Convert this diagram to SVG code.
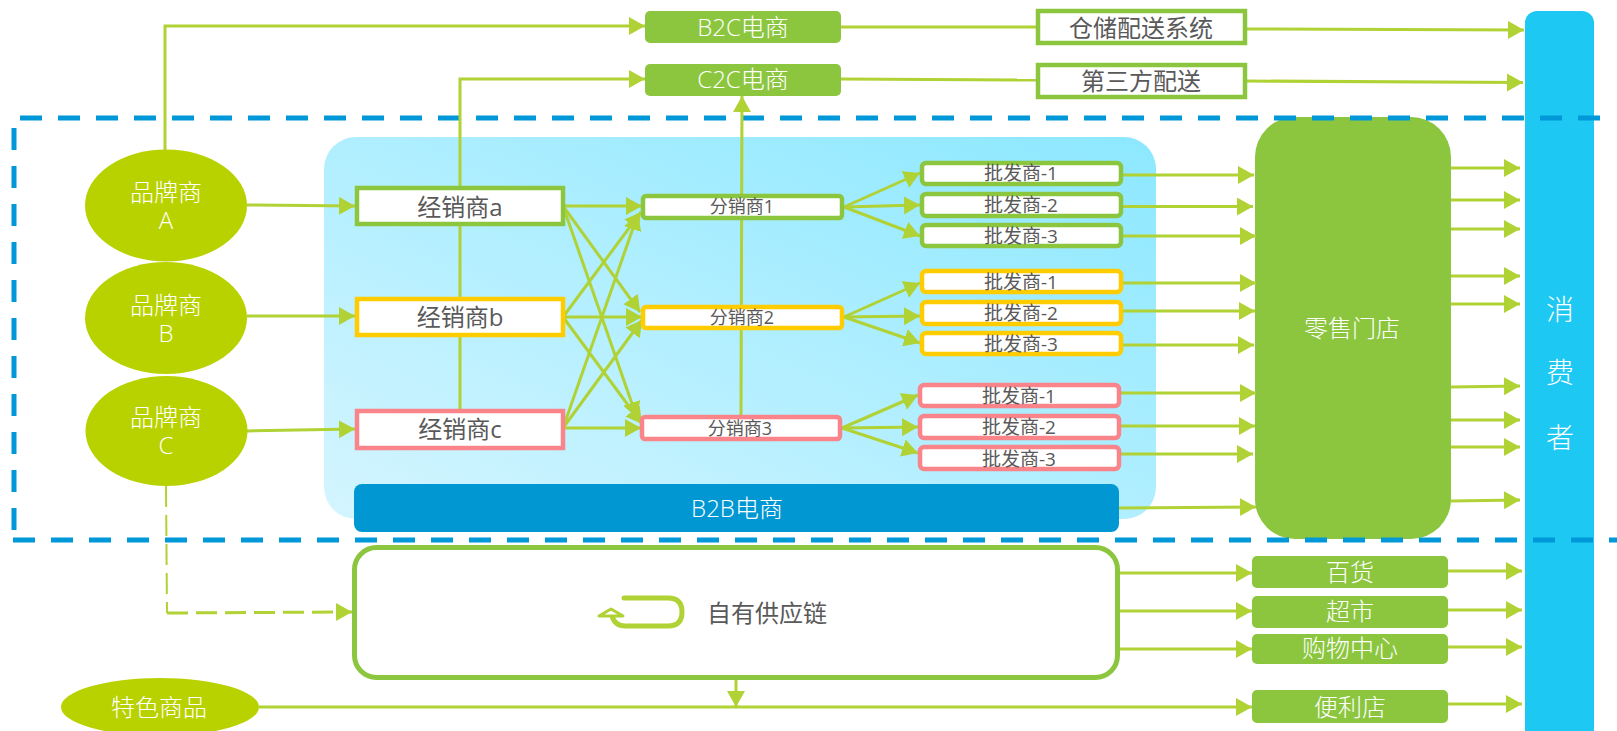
<svg xmlns="http://www.w3.org/2000/svg" width="1617" height="731" viewBox="0 0 1617 731">
<style>
text{font-family:"Open Sans","Noto Sans CJK SC",sans-serif;font-weight:400;text-anchor:middle}
.w{fill:#fff;font-weight:300}.d{fill:#595959}
.s24{font-size:24px}.s20{font-size:19px}.s18{font-size:18px}.s28{font-size:28px}
.c{fill:none;stroke:#b0d235;stroke-width:3}
.ar{marker-end:url(#ah)}
.g{fill:#8cc63f}
.box{fill:#fff;stroke-width:4.500}
.bg{stroke:#8cc63f}.by{stroke:#ffcc00}.bp{stroke:#f9858b}
.e{fill:#b8d200}
.dash{fill:none;stroke:#0098d8;stroke-width:5;stroke-dasharray:22 16}
</style>
<defs>
<marker id="ah" markerUnits="userSpaceOnUse" markerWidth="17" markerHeight="19" refX="16" refY="9" orient="auto"><path d="M0,0L16,9L0,18z" fill="#b0d235"/></marker>
<linearGradient id="pg" x1="0" y1="1" x2="1" y2="0"><stop offset="0" stop-color="#d4f5ff"/><stop offset="1" stop-color="#8ce8ff"/></linearGradient>
</defs>
<g id="panel"><rect x="324" y="137" width="832" height="382" rx="32" fill="url(#pg)"/></g>
<g id="retail"><rect x="1255" y="117" width="196" height="422" rx="40" class="g"/><text x="1352" y="337" class="w s24">零售门店</text></g>
<g id="consumer"><rect x="1525" y="11" width="69" height="735" rx="12" fill="#1dc8f3"/><text x="1560" y="320" class="w s28">消</text><text x="1560" y="383" class="w s28">费</text><text x="1560" y="448" class="w s28">者</text></g>
<g id="frame"><path class="dash" d="M20,118H1603"/><path class="dash" d="M14,128V530"/><path class="dash" d="M13,540H1617"/></g>
<g id="connectors">
<path class="c ar" d="M165,150V26H645"/>
<path class="c ar" d="M460,409V79H645"/>
<path class="c ar" d="M741,415L742,96"/>
<path class="c ar" d="M247,205L355,206"/>
<path class="c ar" d="M247,316L355,316"/>
<path class="c ar" d="M247,431L355,429"/>
<path class="c ar" d="M563,206H642"/>
<path class="c ar" d="M563,206L640,312"/>
<path class="c ar" d="M563,206L637,418"/>
<path class="c ar" d="M563,317L641,212"/>
<path class="c ar" d="M563,317H642"/>
<path class="c ar" d="M563,317L642,424"/>
<path class="c ar" d="M563,428L638,214"/>
<path class="c ar" d="M563,428L642,320"/>
<path class="c ar" d="M563,428H641"/>
<path class="c ar" d="M844,207L920,173"/>
<path class="c ar" d="M844,207L920,205"/>
<path class="c ar" d="M844,207L920,236"/>
<path class="c ar" d="M844,317L920,283"/>
<path class="c ar" d="M844,317L920,316"/>
<path class="c ar" d="M844,317L920,343"/>
<path class="c ar" d="M842,428L918,395"/>
<path class="c ar" d="M842,428L918,427"/>
<path class="c ar" d="M842,428L918,453"/>
<path class="c ar" d="M1123,175H1254"/>
<path class="c ar" d="M1118,206.500H1253"/>
<path class="c ar" d="M1123,236H1256"/>
<path class="c ar" d="M1123,283H1256"/>
<path class="c ar" d="M1123,311H1255"/>
<path class="c ar" d="M1123,345H1254"/>
<path class="c ar" d="M1121,393H1256"/>
<path class="c ar" d="M1121,426H1255"/>
<path class="c ar" d="M1118,454H1253"/>
<path class="c ar" d="M1119,508L1256,507"/>
<path class="c ar" d="M1451,168H1520"/>
<path class="c ar" d="M1451,200H1520"/>
<path class="c ar" d="M1451,229H1520"/>
<path class="c ar" d="M1451,276H1520"/>
<path class="c ar" d="M1451,304H1520"/>
<path class="c ar" d="M1451,387L1520,386"/>
<path class="c ar" d="M1451,420H1520"/>
<path class="c ar" d="M1451,447H1520"/>
<path class="c ar" d="M1451,501L1520,500"/>
<path class="c" d="M841,27H1036"/>
<path class="c" d="M841,79L1036,80"/>
<path class="c ar" d="M1247,29L1524,30"/>
<path class="c ar" d="M1247,81L1523,82.500"/>
<path class="c ar" d="M1120,573H1252"/>
<path class="c ar" d="M1120,611H1252"/>
<path class="c ar" d="M1120,649H1252"/>
<path class="c ar" d="M1448,571H1522"/>
<path class="c ar" d="M1448,610H1522"/>
<path class="c ar" d="M1448,647H1522"/>
<path class="c ar" d="M1448,704H1522"/>
<path class="c ar" d="M259,707H1252"/>
<path class="c ar" d="M736,680V707"/>
<path fill="none" stroke="#b0d235" stroke-width="2" stroke-dasharray="21 8" d="M166,486L167,613"/>
<path class="ar" fill="none" stroke="#b0d235" stroke-width="3" stroke-dasharray="21 8" d="M167,613L352,612"/>
</g>
<g id="brandA"><ellipse cx="166" cy="205.500" rx="81" ry="56" class="e"/><text class="w s24"><tspan x="166" y="201">品牌商</tspan><tspan x="166" y="229">A</tspan></text></g>
<g id="brandB"><ellipse cx="166" cy="318" rx="81" ry="56" class="e"/><text class="w s24"><tspan x="166" y="314">品牌商</tspan><tspan x="166" y="342">B</tspan></text></g>
<g id="brandC"><ellipse cx="166.500" cy="431" rx="81" ry="55" class="e"/><text class="w s24"><tspan x="166" y="426">品牌商</tspan><tspan x="166" y="454">C</tspan></text></g>
<g id="b2c"><rect x="645" y="11" width="196" height="32" rx="5" class="g"/><text x="743" y="36" class="w s24">B2C电商</text></g>
<g id="c2c"><rect x="645" y="64" width="196" height="32" rx="5" class="g"/><text x="743" y="88" class="w s24">C2C电商</text></g>
<g id="wms"><rect x="1038" y="11" width="207" height="32" class="box bg"/><text x="1141" y="37" class="d s24">仓储配送系统</text></g>
<g id="third"><rect x="1038" y="65" width="207" height="32" class="box bg"/><text x="1141" y="90" class="d s24">第三方配送</text></g>
<g id="dealerA"><rect x="357" y="188" width="206" height="36" class="box bg"/><text x="460" y="216" class="d s24">经销商a</text></g>
<g id="dealerB"><rect x="357" y="299" width="206" height="36" class="box by"/><text x="460" y="326" class="d s24">经销商b</text></g>
<g id="dealerC"><rect x="357" y="411" width="206" height="37" class="box bp"/><text x="460" y="438" class="d s24">经销商c</text></g>
<g id="dist1"><rect x="643" y="196" width="199" height="22" rx="3" class="box bg"/><text x="742" y="213" class="d s18">分销商1</text></g>
<g id="dist2"><rect x="643" y="307" width="199" height="21" rx="3" class="box by"/><text x="742" y="324" class="d s18">分销商2</text></g>
<g id="dist3"><rect x="642" y="417" width="198" height="22" rx="3" class="box bp"/><text x="740" y="435" class="d s18">分销商3</text></g>
<g id="wg1"><rect x="922" y="163" width="199" height="21" rx="4" class="box bg"/><text x="1021" y="180" class="d s20">批发商-1</text></g>
<g id="wg2"><rect x="922" y="194" width="199" height="22" rx="4" class="box bg"/><text x="1021" y="212" class="d s20">批发商-2</text></g>
<g id="wg3"><rect x="922" y="225" width="199" height="21" rx="4" class="box bg"/><text x="1021" y="243" class="d s20">批发商-3</text></g>
<g id="wy1"><rect x="922" y="271" width="199" height="21" rx="4" class="box by"/><text x="1021" y="289" class="d s20">批发商-1</text></g>
<g id="wy2"><rect x="922" y="302" width="199" height="22" rx="4" class="box by"/><text x="1021" y="320" class="d s20">批发商-2</text></g>
<g id="wy3"><rect x="922" y="333" width="199" height="21" rx="4" class="box by"/><text x="1021" y="351" class="d s20">批发商-3</text></g>
<g id="wp1"><rect x="920" y="385" width="199" height="21" rx="4" class="box bp"/><text x="1019" y="403" class="d s20">批发商-1</text></g>
<g id="wp2"><rect x="920" y="416" width="199" height="22" rx="4" class="box bp"/><text x="1019" y="434" class="d s20">批发商-2</text></g>
<g id="wp3"><rect x="920" y="447" width="199" height="22" rx="4" class="box bp"/><text x="1019" y="466" class="d s20">批发商-3</text></g>
<g id="b2b"><rect x="354" y="484" width="765" height="48" rx="8" fill="#0097d3"/><text x="737" y="517" class="w s24">B2B电商</text></g>
<g id="own"><rect x="354.500" y="547.500" width="763" height="130" rx="22" fill="#fff" stroke="#8cc63f" stroke-width="5"/><path d="M624,598H668Q682,598 682,612Q682,626 668,626H625Q615,626 612,616" fill="none" stroke="#b0d235" stroke-width="5" stroke-linecap="round"/><path d="M599,616L611,609L623,616z" fill="#fff" stroke="#b0d235" stroke-width="3" stroke-linejoin="round"/><text x="767" y="622" class="d s24">自有供应链</text></g>
<g id="special"><ellipse cx="160" cy="707" rx="99" ry="29" class="e"/><text x="159" y="716" class="w s24">特色商品</text></g>
<g id="dept"><rect x="1252" y="556" width="196" height="32" rx="5" class="g"/><text x="1350" y="581" class="w s24">百货</text></g>
<g id="super"><rect x="1252" y="596" width="196" height="32" rx="5" class="g"/><text x="1350" y="620" class="w s24">超市</text></g>
<g id="mall"><rect x="1252" y="634" width="196" height="30" rx="5" class="g"/><text x="1350" y="657" class="w s24">购物中心</text></g>
<g id="conv"><rect x="1252" y="690" width="196" height="33" rx="5" class="g"/><text x="1350" y="716" class="w s24">便利店</text></g>
</svg>
